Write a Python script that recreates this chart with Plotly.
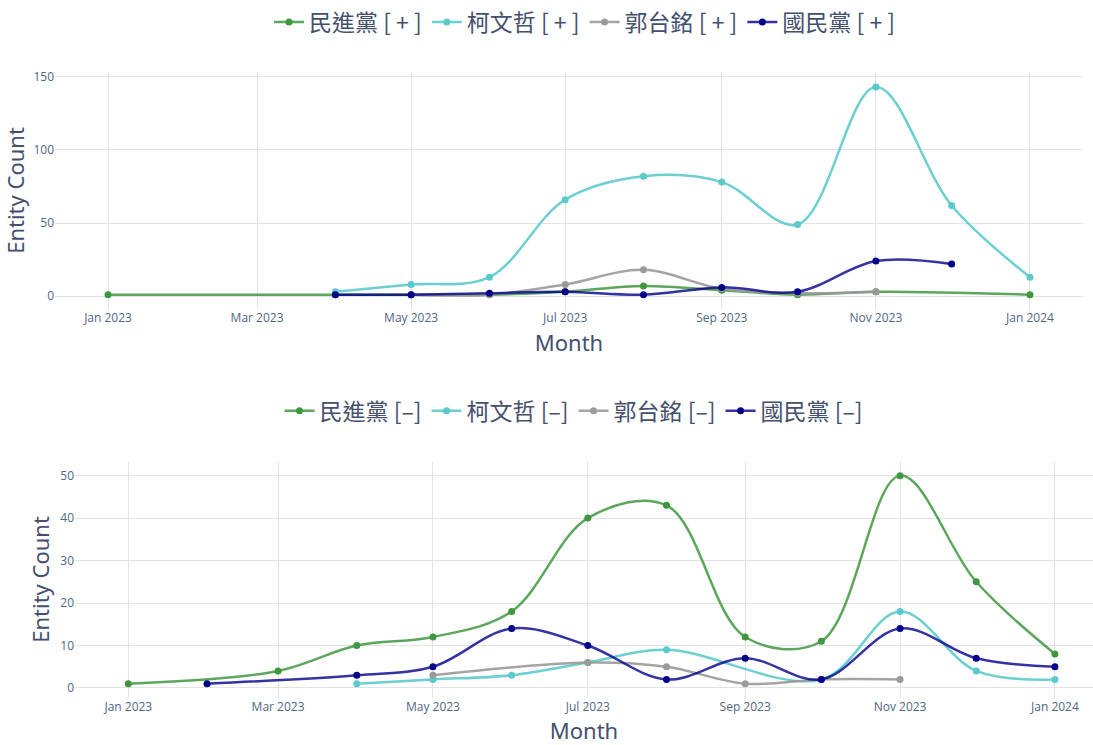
import plotly.graph_objects as go

# ---------------- data ----------------
# Positive sentiment (top panel)
dpp_pos_months = ['2023-01-01', '2023-04-01', '2023-05-01', '2023-06-01', '2023-07-01',
                  '2023-08-01', '2023-09-01', '2023-10-01', '2023-11-01', '2024-01-01']
dpp_pos = [1, 1, 1, 1, 3, 7, 4, 1, 3, 1]

ko_pos_months = ['2023-04-01', '2023-05-01', '2023-06-01', '2023-07-01', '2023-08-01',
                 '2023-09-01', '2023-10-01', '2023-11-01', '2023-12-01', '2024-01-01']
ko_pos = [3, 8, 13, 66, 82, 78, 49, 143, 62, 13]

gou_pos_months = ['2023-05-01', '2023-06-01', '2023-07-01', '2023-08-01', '2023-09-01',
                  '2023-10-01', '2023-11-01']
gou_pos = [1, 1, 8, 18, 5, 2, 3]

kmt_pos_months = ['2023-04-01', '2023-05-01', '2023-06-01', '2023-07-01', '2023-08-01',
                  '2023-09-01', '2023-10-01', '2023-11-01', '2023-12-01']
kmt_pos = [1, 1, 2, 3, 1, 6, 3, 24, 22]

# Negative sentiment (bottom panel)
dpp_neg_months = ['2023-01-01', '2023-03-01', '2023-04-01', '2023-05-01', '2023-06-01',
                  '2023-07-01', '2023-08-01', '2023-09-01', '2023-10-01', '2023-11-01',
                  '2023-12-01', '2024-01-01']
dpp_neg = [1, 4, 10, 12, 18, 40, 43, 12, 11, 50, 25, 8]

ko_neg_months = ['2023-04-01', '2023-05-01', '2023-06-01', '2023-07-01', '2023-08-01',
                 '2023-10-01', '2023-11-01', '2023-12-01', '2024-01-01']
ko_neg = [1, 2, 3, 6, 9, 2, 18, 4, 2]

gou_neg_months = ['2023-05-01', '2023-07-01', '2023-08-01', '2023-09-01', '2023-10-01',
                  '2023-11-01']
gou_neg = [3, 6, 5, 1, 2, 2]

kmt_neg_months = ['2023-02-01', '2023-04-01', '2023-05-01', '2023-06-01', '2023-07-01',
                  '2023-08-01', '2023-09-01', '2023-10-01', '2023-11-01', '2023-12-01',
                  '2024-01-01']
kmt_neg = [1, 3, 5, 14, 10, 2, 7, 2, 14, 7, 5]

names = ['民進黨', '柯文哲', '郭台銘', '國民黨']
pos_suffix = '[ + ]'
neg_suffix = '[–]'
marker_colors = ['#3f983f', '#5ccacc', '#9a9a9a', '#00008b']
line_colors = ['rgba(63,152,63,0.85)', 'rgba(92,202,204,0.9)',
               'rgba(154,154,154,0.9)', 'rgba(0,0,139,0.8)']

top_series = [(dpp_pos_months, dpp_pos), (ko_pos_months, ko_pos),
              (gou_pos_months, gou_pos), (kmt_pos_months, kmt_pos)]
bot_series = [(dpp_neg_months, dpp_neg), (ko_neg_months, ko_neg),
              (gou_neg_months, gou_neg), (kmt_neg_months, kmt_neg)]

# ---------------- figure ----------------
W, H = 1093, 745
fig = go.Figure()

for i, (xs, ys) in enumerate(top_series):
    fig.add_trace(go.Scatter(
        x=xs, y=ys, mode='lines+markers', name=f'{names[i]} {pos_suffix}',
        line=dict(color=line_colors[i], width=2.5, shape='spline'),
        marker=dict(color=marker_colors[i], size=7),
        xaxis='x', yaxis='y', legend='legend'))

for i, (xs, ys) in enumerate(bot_series):
    fig.add_trace(go.Scatter(
        x=xs, y=ys, mode='lines+markers', name=f'{names[i]} {neg_suffix}',
        line=dict(color=line_colors[i], width=2.5, shape='spline'),
        marker=dict(color=marker_colors[i], size=7),
        xaxis='x2', yaxis='y2', legend='legend2'))

grid = '#e3e3e3'
tick_font = dict(family='Open Sans, Noto Sans, sans-serif', size=12, color='#506784')
title_font = dict(family='Noto Sans, Open Sans, sans-serif', size=22, color='#44506e')
legend_font = dict(family='Noto Sans CJK TC, Noto Sans, sans-serif', size=23, color='#44506e')

def px_x(p):
    return p / W

def px_y(p):
    return 1 - p / H

common_x = dict(type='date', dtick='M2', tick0='2023-01-01', tickformat='%b %Y',
                showgrid=True, gridcolor=grid, zeroline=False, showline=False,
                tickfont=tick_font, automargin=False, ticks='', ticklen=0)
common_y = dict(showgrid=True, gridcolor=grid, zeroline=False, showline=False,
                tickfont=tick_font, automargin=False)

fig.update_layout(
    width=W, height=H,
    template='plotly_white',
    paper_bgcolor='white', plot_bgcolor='white',
    margin=dict(l=0, r=0, t=0, b=0),
    showlegend=True,
    xaxis=dict(common_x, domain=[px_x(55), px_x(1083)], anchor='y',
               range=['2022-12-11', '2024-01-22'],
               title=dict(text='Month', font=title_font, standoff=10)),
    yaxis=dict(common_y, domain=[px_y(308), px_y(70)], anchor='x',
               range=[-8.9, 153.4], dtick=50,
               title=dict(text='Entity Count', font=title_font, standoff=4)),
    xaxis2=dict(common_x, domain=[px_x(75), 1.0], anchor='y2',
                range=['2022-12-11', '2024-01-16'],
                title=dict(text='Month', font=title_font, standoff=10)),
    yaxis2=dict(common_y, domain=[px_y(698), px_y(460)], anchor='x2',
                range=[-2.4, 53.5], dtick=10,
                title=dict(text='Entity Count', font=title_font, standoff=4)),
    legend=dict(orientation='h', x=px_x(585), xanchor='center', y=px_y(20),
                yanchor='middle', font=legend_font, bgcolor='rgba(0,0,0,0)',
                itemwidth=30),
    legend2=dict(orientation='h', x=px_x(574), xanchor='center', y=px_y(410),
                 yanchor='middle', font=legend_font, bgcolor='rgba(0,0,0,0)',
                 itemwidth=30),
)

fig.write_html("out.html", config={'displayModeBar': False},
               post_script="document.body.style.margin='0';")
